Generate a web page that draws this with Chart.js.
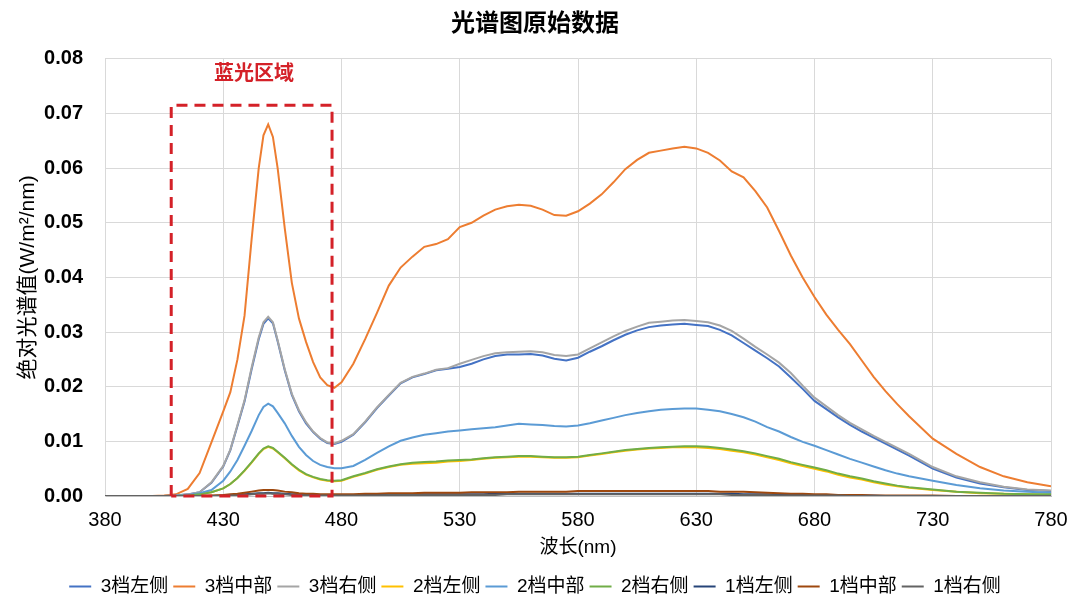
<!DOCTYPE html>
<html>
<head>
<meta charset="utf-8">
<script src="https://cdn.jsdelivr.net/npm/chart.js@4.4.1/dist/chart.umd.min.js"></script>
<style>
html,body{margin:0;padding:0;background:#fff;}
#wrap{width:1080px;height:608px;position:relative;}
</style>
</head>
<body>
<div id="wrap"><canvas id="c" width="1080" height="608"></canvas></div>
<script>
const chartTitle = '光谱图原始数据';
const xTitle = '波长(nm)';
const yTitle = '绝对光谱值(W/m²/nm)';
const regionLabel = '蓝光区域';
const regionBox = [408, 476, 0, 0.0715];   // x from, x to, y from, y to (data units)
const regionLabelAt = [443, 0.0771];

const wavelengths = [380,390,400,405,410,415,420,425,430,433,436,439,442,445,447,449,451,453,456,459,462,465,468,471,474,477,480,485,490,495,500,505,510,515,520,525,530,535,540,545,550,555,560,565,570,575,580,585,590,595,600,605,610,615,620,625,630,635,640,645,650,655,660,665,670,675,680,685,690,695,700,705,710,715,720,730,740,750,760,770,780];

const seriesNames = ['3档左侧','3档中部','3档右侧','2档左侧','2档中部','2档右侧','1档左侧','1档中部','1档右侧'];
const seriesColors = ['#4472C4','#ED7D31','#A5A5A5','#FFC000','#5B9BD5','#70AD47','#264478','#9E480E','#636363'];

const s3Left = [0,0,0,0,0.0001,0.0003,0.0007,0.0024,0.0054,
0.0084,0.0128,0.0173,0.0232,0.0287,0.0315,0.0325,0.0316,0.0283,
0.0230,0.0185,0.0155,0.0133,0.0117,0.0105,0.0097,0.0095,
0.0099,0.0112,0.0135,0.0161,0.0184,0.0206,0.0217,0.0223,0.0230,0.0233,
0.0236,0.0242,0.0250,0.0256,0.0259,0.0259,0.0260,0.0257,0.0251,0.0248,
0.0253,0.0264,0.0274,0.0285,0.0295,0.0303,0.0309,0.0312,0.0314,0.0315,
0.0313,0.0311,0.0304,0.0294,0.0280,0.0266,0.0252,0.0237,0.0217,0.0196,
0.0174,0.0159,0.0144,0.0130,0.0118,0.0107,0.0096,0.0085,0.0074,
0.0050,0.0034,0.0023,0.0016,0.0011,0.0009];

const s3Mid = [0,0,0,0.0001,0.0003,0.0013,0.0042,0.0098,0.0155,
0.019,0.025,0.033,0.047,0.060,0.066,0.068,0.0657,0.060,
0.049,0.039,0.0325,0.0282,0.0245,0.0217,0.0203,0.0198,
0.0208,0.0242,0.0287,0.0335,0.0385,0.0418,0.0438,0.0456,0.0461,0.0470,
0.0492,0.0500,0.0513,0.0524,0.0530,0.0533,0.0531,0.0524,0.0514,0.0513,
0.0521,0.0535,0.0552,0.0574,0.0598,0.0615,0.0628,0.0632,0.0636,0.0639,
0.0636,0.0628,0.0614,0.0594,0.0583,0.0558,0.0528,0.0485,0.0440,0.0400,
0.0364,0.0332,0.0304,0.0278,0.0248,0.0218,0.0192,0.0168,0.0146,
0.0105,0.0077,0.0053,0.0036,0.0025,0.0018];

const s3Right = [0,0,0,0,0.0001,0.0003,0.0007,0.0025,0.0055,
0.0085,0.013,0.0175,0.0235,0.029,0.0318,0.0328,0.0318,0.0285,
0.0232,0.0187,0.0157,0.0135,0.0118,0.0106,0.0098,0.0096,
0.0101,0.0113,0.0136,0.0162,0.0185,0.0207,0.0218,0.0224,0.0231,0.0234,
0.0242,0.0249,0.0256,0.0261,0.0263,0.0264,0.0265,0.0263,0.0258,0.0256,
0.0259,0.0270,0.0281,0.0292,0.0302,0.0310,0.0317,0.0319,0.0321,0.0322,
0.0320,0.0318,0.0312,0.0302,0.0288,0.0273,0.0259,0.0244,0.0225,0.0202,
0.0180,0.0164,0.0148,0.0134,0.0122,0.0110,0.0099,0.0088,0.0077,
0.0053,0.0036,0.0025,0.0017,0.0012,0.0010];

const s2Left = [0,0,0,0,0,0.0001,0.0003,0.0007,0.0014,
0.0022,0.0033,0.0046,0.0061,0.0077,0.0086,0.0090,0.0087,0.0080,
0.0069,0.0057,0.0047,0.0039,0.0034,0.0030,0.0028,0.0027,
0.0028,0.0035,0.0041,0.0048,0.0053,0.0057,0.0059,0.0060,0.0061,0.0063,
0.0064,0.0066,0.0068,0.0070,0.0071,0.0072,0.0072,0.0071,0.0070,0.0070,
0.0071,0.0074,0.0077,0.0080,0.0083,0.0085,0.0087,0.0088,0.0089,0.0089,
0.0089,0.0088,0.0086,0.0083,0.0080,0.0076,0.0071,0.0066,0.0060,0.0055,
0.0050,0.0045,0.0039,0.0034,0.0030,0.0025,0.0021,0.0018,0.0015,
0.0011,0.0008,0.0005,0.0004,0.0003,0.0002];

const s2Mid = [0,0,0,0,0.0001,0.0002,0.0005,0.0011,0.0028,
0.0045,0.0066,0.0092,0.0119,0.0148,0.0163,0.0169,0.0164,0.0152,
0.0133,0.0110,0.0090,0.0075,0.0064,0.0057,0.0053,0.0051,
0.0051,0.0055,0.0066,0.0079,0.0091,0.0101,0.0107,0.0112,0.0115,0.0118,
0.0120,0.0122,0.0124,0.0126,0.0129,0.0132,0.0131,0.0130,0.0128,0.0127,
0.0129,0.0133,0.0138,0.0143,0.0148,0.0152,0.0155,0.0158,0.0159,0.0160,
0.0160,0.0158,0.0155,0.0150,0.0144,0.0136,0.0126,0.0118,0.0108,0.0099,
0.0092,0.0084,0.0076,0.0068,0.0061,0.0054,0.0047,0.0041,0.0036,
0.0028,0.0020,0.0014,0.0010,0.0008,0.0006];

const s2Right = [0,0,0,0,0,0.0001,0.0003,0.0007,0.0014,
0.0022,0.0033,0.0047,0.0062,0.0078,0.0087,0.0091,0.0088,0.0081,
0.0070,0.0058,0.0048,0.0040,0.0035,0.0031,0.0029,0.0028,
0.0029,0.0036,0.0042,0.0049,0.0054,0.0058,0.0061,0.0062,0.0063,0.0065,
0.0066,0.0067,0.0069,0.0071,0.0072,0.0073,0.0073,0.0072,0.0071,0.0071,
0.0072,0.0075,0.0078,0.0081,0.0084,0.0086,0.0088,0.0089,0.0090,0.0091,
0.0091,0.0090,0.0088,0.0085,0.0082,0.0078,0.0073,0.0068,0.0062,0.0057,
0.0052,0.0047,0.0041,0.0036,0.0032,0.0027,0.0023,0.0019,0.0016,
0.0012,0.0008,0.0006,0.0004,0.0003,0.0003];

const s1Left = [0,0,0,0,0,0,0,0,0.0001,
0.0001,0.0002,0.0003,0.0004,0.0005,0.0005,0.0006,0.0005,0.0005,
0.0004,0.0003,0.0003,0.0002,0.0002,0.0002,0.0001,0.0001,
0.0001,0.0002,0.0002,0.0002,0.0002,0.0003,0.0003,0.0003,0.0003,0.0003,
0.0003,0.0003,0.0003,0.0004,0.0004,0.0004,0.0004,0.0004,0.0004,0.0004,
0.0004,0.0004,0.0004,0.0004,0.0004,0.0004,0.0004,0.0004,0.0004,0.0004,
0.0004,0.0004,0.0004,0.0004,0.0003,0.0003,0.0003,0.0002,0.0002,0.0002,
0.0001,0.0001,0.0001,0.0001,0.0001,0.0001,0,0,0,
0,0,0,0,0,0];

const s1Mid = [0,0,0,0,0,0,0,0.0001,0.0002,
0.0003,0.0004,0.0006,0.0008,0.0010,0.0011,0.0011,0.0011,0.0010,
0.0008,0.0007,0.0005,0.0004,0.0004,0.0003,0.0003,0.0003,
0.0003,0.0003,0.0004,0.0004,0.0005,0.0005,0.0005,0.0006,0.0006,0.0006,
0.0006,0.0007,0.0007,0.0007,0.0007,0.0008,0.0008,0.0008,0.0008,0.0008,
0.0009,0.0009,0.0009,0.0009,0.0009,0.0009,0.0009,0.0009,0.0009,0.0009,
0.0009,0.0009,0.0008,0.0008,0.0008,0.0007,0.0006,0.0005,0.0004,0.0004,
0.0003,0.0003,0.0002,0.0002,0.0002,0.0001,0.0001,0.0001,0.0001,
0.0001,0,0,0,0,0];

const s1Right = [0,0,0,0,0,0,0,0,0,
0.0001,0.0001,0.0002,0.0003,0.0004,0.0004,0.0005,0.0004,0.0004,
0.0003,0.0002,0.0002,0.0001,0.0001,0.0001,0.0001,0.0001,
0.0001,0.0001,0.0001,0.0001,0.0002,0.0002,0.0002,0.0002,0.0002,0.0002,
0.0002,0.0002,0.0002,0.0002,0.0003,0.0003,0.0003,0.0003,0.0003,0.0003,
0.0003,0.0003,0.0003,0.0003,0.0003,0.0003,0.0003,0.0003,0.0003,0.0003,
0.0003,0.0003,0.0003,0.0002,0.0002,0.0002,0.0002,0.0001,0.0001,0.0001,
0.0001,0.0001,0.0001,0,0,0,0,0,0,
0,0,0,0,0,0];

const seriesValues = [s3Left, s3Mid, s3Right, s2Left, s2Mid, s2Right, s1Left, s1Mid, s1Right];

const xTicks = [380,430,480,530,580,630,680,730,780];
const yTicks = [0,0.01,0.02,0.03,0.04,0.05,0.06,0.07,0.08];

const FONT = '"Liberation Sans", Arial, "Noto Sans CJK SC", sans-serif';

const datasets = seriesNames.map((name, i) => ({
  label: name,
  data: wavelengths.map((w, k) => ({x: w, y: seriesValues[i][k]})),
  borderColor: seriesColors[i],
  backgroundColor: seriesColors[i],
  borderWidth: 2,
  pointRadius: 0,
  pointHoverRadius: 0,
  tension: 0,
  fill: false,
  order: -i
}));

const regionPlugin = {
  id: 'blueRegion',
  afterDatasetsDraw(chart) {
    const {ctx, scales: {x, y}} = chart;
    const x0 = x.getPixelForValue(regionBox[0]);
    const x1 = x.getPixelForValue(regionBox[1]);
    const y0 = y.getPixelForValue(regionBox[2]);
    const y1 = y.getPixelForValue(regionBox[3]);
    ctx.save();
    ctx.strokeStyle = '#D42128';
    ctx.lineWidth = 3;
    ctx.setLineDash([11, 7]);
    ctx.beginPath();
    ctx.moveTo(x0, y0);
    ctx.lineTo(x0, y1);
    ctx.lineTo(x1, y1);
    ctx.lineTo(x1, y0);
    ctx.lineTo(x0, y0);
    ctx.stroke();
    ctx.setLineDash([]);
    ctx.fillStyle = '#D42128';
    ctx.font = 'bold 20px ' + FONT;
    ctx.textAlign = 'center';
    ctx.textBaseline = 'middle';
    ctx.fillText(regionLabel, x.getPixelForValue(regionLabelAt[0]), y.getPixelForValue(regionLabelAt[1]));
    ctx.restore();
  }
};

new Chart(document.getElementById('c'), {
  type: 'line',
  data: {datasets},
  plugins: [regionPlugin],
  options: {
    responsive: false,
    animation: false,
    events: [],
    layout: {padding: {left: 19, right: 29, top: 0, bottom: 2}},
    plugins: {
      title: {
        display: true,
        text: chartTitle,
        color: '#000',
        font: {family: FONT, size: 24, weight: 'bold'},
        padding: {top: 10, bottom: 20}
      },
      legend: {
        position: 'bottom',
        labels: {
          usePointStyle: true,
          pointStyle: 'line',
          pointStyleWidth: 22,
          color: '#000',
          font: {family: FONT, size: 19},
          padding: 5,
          sort: (a, b) => a.datasetIndex - b.datasetIndex
        }
      },
      tooltip: {enabled: false}
    },
    scales: {
      x: {
        type: 'linear',
        min: xTicks[0],
        max: xTicks[xTicks.length - 1],
        afterBuildTicks(scale) { scale.ticks = xTicks.map(v => ({value: v})); },
        afterFit(scale) { scale.height = 76; },
        ticks: {color: '#000', font: {family: FONT, size: 20}, padding: 12, maxRotation: 0},
        grid: {color: '#D9D9D9', lineWidth: 1, drawTicks: false},
        border: {color: '#BFBFBF', width: 1},
        title: {display: true, text: xTitle, color: '#000', font: {family: FONT, size: 19}, padding: {top: 4, bottom: 13}}
      },
      y: {
        type: 'linear',
        min: yTicks[0],
        max: yTicks[yTicks.length - 1],
        afterBuildTicks(scale) { scale.ticks = yTicks.map(v => ({value: v})); },
        afterFit(scale) { scale.width = 86; },
        ticks: {color: '#000', font: {family: FONT, size: 20, weight: 'bold'}, padding: 22, callback: v => v.toFixed(2)},
        grid: {color: '#D9D9D9', lineWidth: 1, drawTicks: false},
        border: {color: '#D9D9D9', width: 1},
        title: {display: true, text: yTitle, color: '#000', font: {family: FONT, size: 21}, padding: {top: -3, bottom: 0}}
      }
    }
  }
});
</script>
</body>
</html>
